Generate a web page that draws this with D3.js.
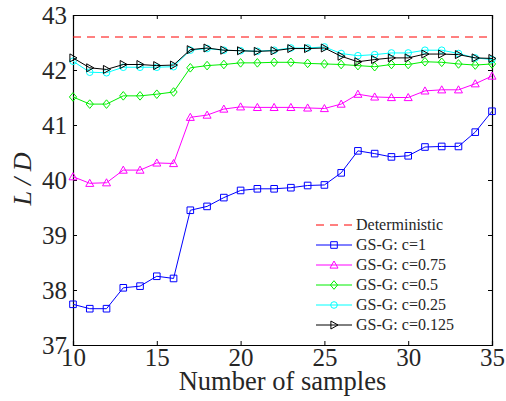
<!DOCTYPE html>
<html>
<head>
<meta charset="utf-8">
<style>
body { margin: 0; background: #fff; }
svg { display: block; }
</style>
</head>
<body>
<svg width="506" height="401"></svg>
<script src="https://cdnjs.cloudflare.com/ajax/libs/d3/7.8.5/d3.min.js"></script>
<script>

var samples = [10, 11, 12, 13, 14, 15, 16, 17, 18, 19, 20, 21, 22, 23, 24, 25, 26, 27, 28, 29, 30, 31, 32, 33, 34, 35];

var deterministic = 42.6;

var c1 = [37.74, 37.66, 37.66, 38.04, 38.07, 38.25, 38.21, 39.45, 39.52, 39.68, 39.81, 39.84, 39.84,
          39.86, 39.90, 39.91, 40.13, 40.53, 40.48, 40.42, 40.44, 40.60, 40.61, 40.61, 40.87, 41.25];
var c075 = [40.06, 39.94, 39.95, 40.18, 40.18, 40.31, 40.30, 41.14, 41.18, 41.29, 41.33, 41.32, 41.32,
            41.32, 41.31, 41.30, 41.38, 41.56, 41.51, 41.50, 41.50, 41.62, 41.64, 41.64, 41.75, 41.89];
var c05 = [41.51, 41.38, 41.38, 41.53, 41.53, 41.56, 41.60, 42.04, 42.08, 42.10, 42.13, 42.13, 42.14,
           42.14, 42.12, 42.11, 42.10, 42.08, 42.06, 42.10, 42.10, 42.15, 42.14, 42.11, 42.09, 42.11];
var c025 = [42.16, 41.96, 41.95, 42.05, 42.05, 42.05, 42.06, 42.36, 42.39, 42.36, 42.35, 42.34, 42.36,
            42.40, 42.40, 42.42, 42.30, 42.26, 42.28, 42.31, 42.31, 42.36, 42.36, 42.30, 42.22, 42.19];
var c0125 = [42.22, 42.04, 42.01, 42.10, 42.10, 42.08, 42.09, 42.37, 42.40, 42.36, 42.35, 42.34, 42.35,
             42.39, 42.39, 42.40, 42.25, 42.15, 42.19, 42.22, 42.22, 42.29, 42.29, 42.28, 42.22, 42.21];

var xTicks = [10, 15, 20, 25, 30, 35];
var yTicks = [37, 38, 39, 40, 41, 42, 43];

var series = [
  { name: "GS-G: c=1",     values: c1,    color: "#0000ff", marker: "square" },
  { name: "GS-G: c=0.75",  values: c075,  color: "#ff00ff", marker: "triUp" },
  { name: "GS-G: c=0.5",   values: c05,   color: "#00ee00", marker: "diamond" },
  { name: "GS-G: c=0.25",  values: c025,  color: "#00ffff", marker: "circle" },
  { name: "GS-G: c=0.125", values: c0125, color: "#000000", marker: "triRight" }
];

var serif = "Liberation Serif",
    textColor = "#262626";

var svg = d3.select("svg"),
    margin = { top: 15, right: 14, bottom: 56, left: 73 },
    width = 506 - margin.left - margin.right,
    height = 401 - margin.top - margin.bottom;

var x = d3.scaleLinear().domain([10, 35]).range([0, width]);
var y = d3.scaleLinear().domain([37, 43]).range([height, 0]);

var g = svg.append("g").attr("transform", "translate(" + margin.left + "," + margin.top + ")");

// markers as paths centered on 0,0
function markerPath(type) {
  var s = 3.3;
  if (type == "square") return "M" + -s + "," + -s + "H" + s + "V" + s + "H" + -s + "Z";
  if (type == "triUp") return "M0," + (-s - 0.7) + "L" + (s + 0.7) + "," + (s - 0.2) + "L" + (-s - 0.7) + "," + (s - 0.2) + "Z";
  if (type == "triRight") return "M" + (s + 0.7) + ",0L" + (-s + 0.2) + "," + (s + 0.7) + "L" + (-s + 0.2) + "," + (-s - 0.7) + "Z";
  if (type == "diamond") return "M0," + (-s - 1) + "L" + (s + 0.3) + ",0L0," + (s + 1) + "L" + (-s - 0.3) + ",0Z";
  return d3.symbol(d3.symbolCircle, Math.PI * s * s)();
}

// axes: ticks pointing inward on all four sides
var tickLen = 4;
var xAxis = g.append("g")
    .attr("transform", "translate(0," + height + ")")
    .call(d3.axisBottom(x).tickValues(xTicks).tickSize(-tickLen).tickPadding(6).tickFormat(d3.format("d")));
g.append("g")
    .call(d3.axisTop(x).tickValues(xTicks).tickSize(-tickLen).tickFormat(""));
var yAxis = g.append("g")
    .call(d3.axisLeft(y).tickValues(yTicks).tickSize(-tickLen).tickPadding(6).tickFormat(d3.format("d")));
g.append("g")
    .attr("transform", "translate(" + width + ",0)")
    .call(d3.axisRight(y).tickValues(yTicks).tickSize(-tickLen).tickFormat(""));

g.selectAll(".domain").attr("stroke", "#000").attr("stroke-width", 1.2);
g.selectAll(".tick line").attr("stroke", "#000");
xAxis.attr("font-family", serif).attr("font-size", 25);
yAxis.attr("font-family", serif).attr("font-size", 25);
xAxis.selectAll("text").attr("fill", textColor).attr("dy", "0.6em");
yAxis.selectAll("text").attr("fill", textColor).attr("dy", "0.33em");

// deterministic reference
g.append("line")
    .attr("x1", 0).attr("x2", width)
    .attr("y1", y(deterministic)).attr("y2", y(deterministic))
    .attr("stroke", "#ff0000").attr("stroke-width", 1)
    .attr("stroke-dasharray", "8,6");

var line = d3.line()
    .x(function(d, i) { return x(samples[i]); })
    .y(function(d) { return y(d); });

series.forEach(function(s) {
  var sg = g.append("g");
  sg.append("path")
      .attr("d", line(s.values))
      .attr("fill", "none")
      .attr("stroke", s.color)
      .attr("stroke-width", 1);
  sg.selectAll("path.m")
      .data(s.values)
    .enter().append("path")
      .attr("class", "m")
      .attr("transform", function(d, i) { return "translate(" + x(samples[i]) + "," + y(d) + ")"; })
      .attr("d", markerPath(s.marker))
      .attr("fill", "none")
      .attr("stroke", s.color)
      .attr("stroke-width", 1);
});

// axis titles
svg.append("text")
    .attr("x", margin.left + width / 2)
    .attr("y", 390)
    .attr("text-anchor", "middle")
    .attr("font-family", serif)
    .attr("font-size", 26.5)
    .attr("fill", textColor)
    .text("Number of samples");

svg.append("text")
    .attr("transform", "translate(31,179) rotate(-90)")
    .attr("text-anchor", "middle")
    .attr("font-family", serif)
    .attr("font-size", 26)
    .attr("font-style", "italic")
    .attr("fill", textColor)
    .text("L / D");

// legend
var legend = svg.append("g")
    .attr("transform", "translate(316,225)")
    .attr("font-family", serif)
    .attr("font-size", 16);
var entries = [{ name: "Deterministic", color: "#ff0000", dash: "8,6", marker: null }].concat(series);

var item = legend.selectAll("g")
    .data(entries)
  .enter().append("g")
    .attr("transform", function(d, i) { return "translate(0," + i * 20 + ")"; });

item.append("line")
    .attr("x1", 0).attr("x2", 36)
    .attr("stroke", function(d) { return d.color; })
    .attr("stroke-dasharray", function(d) { return d.dash || null; });

item.filter(function(d) { return d.marker; })
  .append("path")
    .attr("transform", "translate(18,0)")
    .attr("d", function(d) { return markerPath(d.marker); })
    .attr("fill", "none")
    .attr("stroke", function(d) { return d.color; });

item.append("text")
    .attr("x", 40)
    .attr("dy", "0.33em")
    .attr("fill", textColor)
    .text(function(d) { return d.name; });

</script>
</body>
</html>
